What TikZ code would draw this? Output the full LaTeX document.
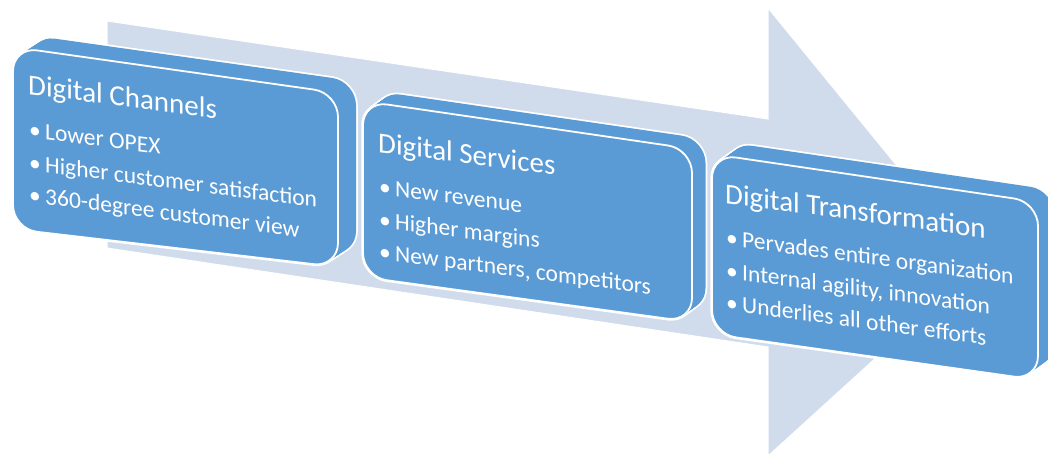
\documentclass[tikz,border=0pt]{standalone}
\usepackage{fontspec}
\setmainfont{Carlito}
\definecolor{arrowc}{RGB}{208,220,236}
\definecolor{boxc}{RGB}{91,155,213}
\newcommand\ttlfont{\fontsize{29}{29}\selectfont}
\newcommand\itmfont{\fontsize{23.5}{23.5}\selectfont}
\newcommand\bitem[1]{\hbox{\itmfont\hspace*{1pt}\makebox[16pt][l]{•}#1}}
\newcommand\slabtext[4]{% title, gap, spacing, items
  \vtop{\lineskiplimit=-100pt \lineskip=0pt
    \hbox{\ttlfont #1}\baselineskip=#2 #4}}
\tikzset{
  arrowshape/.style={fill=arrowc, draw=white, line width=1pt, line join=miter},
  boxedge/.style={draw=white, line width=3.5pt, rounded corners=24pt},
  boxbody/.style={fill=boxc, rounded corners=24pt},
  boxfront/.style={fill=boxc, draw=white, line width=1.8pt, rounded corners=24pt},
  slabtxt/.style={text=white, anchor=base west, inner sep=0pt, cm={1,-#1,0,1,(0,0)}},
}
\newcommand\slabbox[6]{%
  \foreach \t in {0,0.1,...,1.0}{\draw[boxedge, shift={(\t*#5,\t*#6)}] (#1) -- (#2) -- (#3) -- (#4) -- cycle;}
  \foreach \t in {0,0.1,...,1.0}{\fill[boxbody, shift={(\t*#5,\t*#6)}] (#1) -- (#2) -- (#3) -- (#4) -- cycle;}
  \draw[boxfront] (#1) -- (#2) -- (#3) -- (#4) -- cycle;
}
\begin{document}
\begin{tikzpicture}[x=1pt, y=-1pt]
\useasboundingbox (0,0) rectangle (1048,454);
% big background arrow
\path[arrowshape] (107,21) -- (768,119) -- (768,8) -- (978,265) -- (768,456) -- (768,347) -- (107,248) -- cycle;

% box 1
\slabbox{13,47}{338,93}{338,267}{13,229}{20}{-13}
\node[slabtxt=0.13] (c1) at (28,94) {\vtop{\lineskiplimit=-100pt \lineskip=0pt
    \hbox{\ttlfont Digital Channels}
    \baselineskip=43pt \bitem{Lower OPEX}
    \baselineskip=33pt \bitem{Higher customer satisfaction}
    \baselineskip=32pt \bitem{360-degree customer view}}};

% box 2
\slabbox{363,101}{692,149}{692,322}{363,277}{15}{-11}
\node[slabtxt=0.13] (c2) at (378,152) {\vtop{\lineskiplimit=-100pt \lineskip=0pt
    \hbox{\ttlfont Digital Services}
    \baselineskip=42pt \bitem{New revenue}
    \baselineskip=33pt \bitem{Higher margins}
    \baselineskip=32pt \bitem{New partners, competitors}}};

% box 3
\slabbox{712,154}{1038,202}{1038,380}{712,334}{18}{-13}
\node[slabtxt=0.135] (c3) at (725,203) {\vtop{\lineskiplimit=-100pt \lineskip=0pt
    \hbox{\ttlfont Digital Transformation}
    \baselineskip=42pt \bitem{Pervades entire organization}
    \baselineskip=33pt \bitem{Internal agility, innovation}
    \baselineskip=32pt \bitem{Underlies all other efforts}}};
\end{tikzpicture}
\end{document}
